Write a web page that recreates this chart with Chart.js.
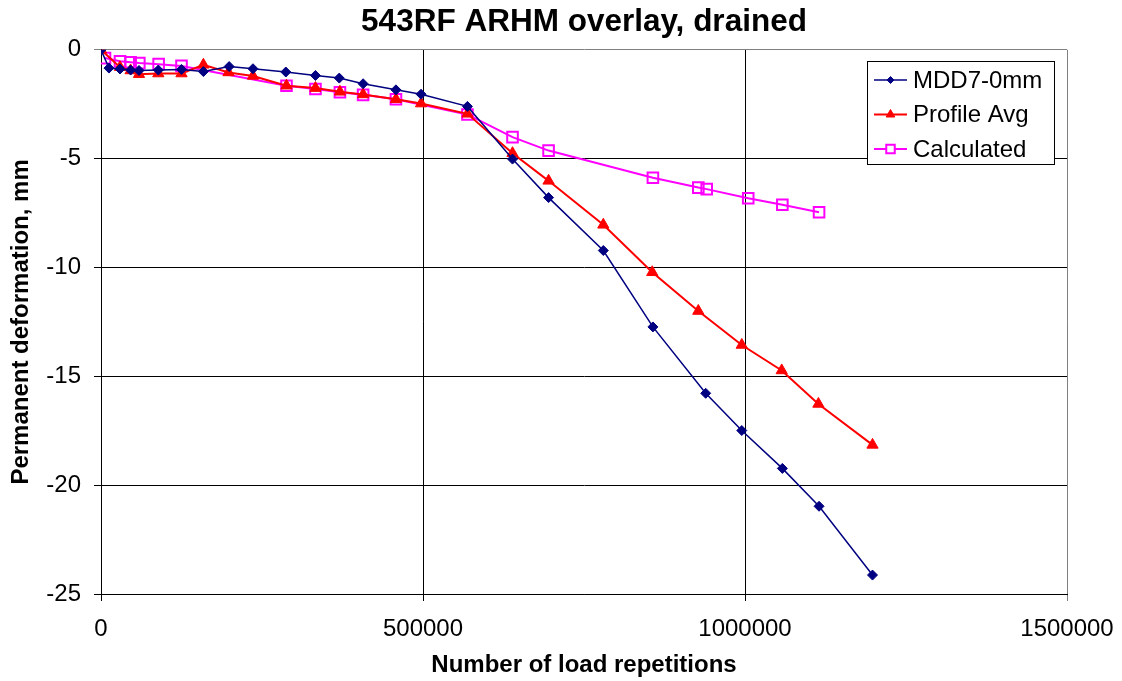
<!DOCTYPE html>
<html>
<head>
<meta charset="utf-8">
<script src="https://cdn.jsdelivr.net/npm/chart.js@4"></script>
<style>
  html, body { margin: 0; padding: 0; background: #fff; }
  #wrap { width: 1122px; height: 681px; }
</style>
</head>
<body>
<div id="wrap"><canvas id="chart"></canvas></div>
<script>
// MDD7-0mm
const mddX = [0, 12400, 29500, 46000, 59000, 89000, 125000, 159000, 199000, 236000, 287000, 333000, 370000, 407000, 458000, 497000, 569000, 639000, 695000, 780000, 857000, 939000, 995000, 1058000, 1115000, 1198000];
const mddY = [0, -0.84, -0.88, -0.93, -0.95, -0.93, -0.9, -1.0, -0.77, -0.87, -1.02, -1.18, -1.3, -1.56, -1.84, -2.04, -2.6, -5.02, -6.79, -9.22, -12.73, -15.78, -17.49, -19.23, -20.97, -24.13];

// Profile Avg
const avgX = [0, 29500, 46000, 59000, 89000, 125000, 159000, 198000, 236000, 288000, 333000, 371000, 407000, 458000, 497000, 569000, 639000, 695000, 780000, 856000, 927500, 995000, 1057000, 1114000, 1198000];
const avgY = [0, -0.8, -0.95, -1.12, -1.09, -1.09, -0.69, -1.04, -1.2, -1.65, -1.76, -1.93, -2.05, -2.27, -2.47, -2.94, -4.75, -6.02, -8.04, -10.22, -12.0, -13.56, -14.73, -16.27, -18.15];

// Calculated
const calcX = [6200, 29500, 46000, 59500, 89500, 125000, 288000, 333000, 371000, 407000, 458000, 569000, 639000, 695000, 857000, 927500, 940500, 1005000, 1058000, 1115000];
const calcY = [-0.38, -0.53, -0.57, -0.61, -0.66, -0.74, -1.65, -1.8, -1.95, -2.07, -2.27, -2.97, -4.01, -4.63, -5.88, -6.33, -6.4, -6.82, -7.12, -7.46];

const xTicks = [0, 500000, 1000000, 1500000];
const yTicks = [0, -5, -10, -15, -20, -25];

const pts = (xs, ys) => xs.map((x, i) => ({ x: x, y: ys[i] }));

// legend box drawn inside the plot, like the Excel one
const boxLegend = {
  id: 'boxLegend',
  afterDatasetsDraw(chart) {
    const ctx = chart.ctx;
    const left = 867.5, top = 61.5, w = 187, h = 103;
    ctx.save();
    ctx.fillStyle = '#fff';
    ctx.fillRect(left, top, w, h);
    ctx.strokeStyle = '#000';
    ctx.lineWidth = 1;
    ctx.strokeRect(left, top, w, h);
    ctx.font = '24px Arial, "Liberation Sans"';
    ctx.textBaseline = 'middle';
    chart.data.datasets.forEach((ds, i) => {
      const y = 80 + i * 34.5;
      ctx.strokeStyle = ds.borderColor;
      ctx.lineWidth = ds.borderWidth;
      ctx.beginPath();
      ctx.moveTo(874, y);
      ctx.lineTo(907, y);
      ctx.stroke();
      ctx.fillStyle = ds.legendFill;
      ctx.strokeStyle = ds.pointBorderColor;
      ctx.lineWidth = ds.pointBorderWidth;
      Chart.helpers.drawPoint(ctx, {
        pointStyle: ds.pointStyle,
        radius: ds.pointRadius - 1.5,
        borderWidth: ds.pointBorderWidth
      }, 890.5, y);
      ctx.fillStyle = '#000';
      ctx.fillText(ds.label, 913, y + 1);
    });
    ctx.restore();
  }
};

new Chart(document.getElementById('chart'), {
  type: 'scatter',
  data: {
    datasets: [{
      label: 'MDD7-0mm',
      data: pts(mddX, mddY),
      showLine: true,
      borderColor: '#000080',
      borderWidth: 1.5,
      pointStyle: 'rectRot',
      pointRadius: 5,
      pointBorderWidth: 1,
      pointBackgroundColor: '#000080',
      pointBorderColor: '#000080',
      legendFill: '#000080'
    }, {
      label: 'Profile Avg',
      data: pts(avgX, avgY),
      showLine: true,
      borderColor: '#ff0000',
      borderWidth: 2,
      pointStyle: 'triangle',
      pointRadius: 6.5,
      pointBorderWidth: 1,
      pointBackgroundColor: '#ff0000',
      pointBorderColor: '#ff0000',
      legendFill: '#ff0000'
    }, {
      label: 'Calculated',
      data: pts(calcX, calcY),
      showLine: true,
      borderColor: '#ff00ff',
      borderWidth: 2,
      pointStyle: 'rect',
      pointRadius: 7.5,
      pointBorderWidth: 2,
      pointBackgroundColor: 'rgba(255,255,255,0)',
      pointBorderColor: '#ff00ff',
      legendFill: '#ffffff'
    }]
  },
  options: {
    responsive: true,
    maintainAspectRatio: false,
    animation: false,
    layout: { padding: { left: 0, right: 55, top: 0, bottom: 0 } },
    plugins: {
      legend: { display: false },
      tooltip: { enabled: false },
      title: {
        display: true,
        fullSize: false,
        text: '543RF ARHM overlay, drained',
        color: '#000',
        font: { family: 'Arial, "Liberation Sans"', size: 31.5, weight: 'bold' },
        padding: { top: 3, bottom: 9 }
      }
    },
    scales: {
      x: {
        type: 'linear',
        min: 0,
        max: 1500000,
        afterBuildTicks: s => { s.ticks = xTicks.map(v => ({ value: v })); },
        afterFit: s => { s.height = 87; s.paddingLeft = 0; s.paddingRight = 0; },
        border: { color: '#000', width: 1 },
        grid: {
          color: c => (c.tick && c.tick.value === 1500000) ? '#808080' : '#000',
          lineWidth: 1,
          tickLength: 7
        },
        ticks: {
          color: '#000',
          padding: 14,
          maxRotation: 0,
          font: { family: 'Arial, "Liberation Sans"', size: 24 },
          callback: v => String(v)
        },
        title: {
          display: true,
          text: 'Number of load repetitions',
          color: '#000',
          font: { family: 'Arial, "Liberation Sans"', size: 24, weight: 'bold' },
          padding: { top: 0, bottom: 1 }
        }
      },
      y: {
        type: 'linear',
        min: -25,
        max: 0,
        afterBuildTicks: s => { s.ticks = yTicks.map(v => ({ value: v })); },
        afterFit: s => { s.width = 101; s.paddingTop = 0; s.paddingBottom = 0; },
        border: { color: '#000', width: 1 },
        grid: {
          color: c => (c.tick && c.tick.value === 0) ? '#808080' : '#000',
          lineWidth: 1,
          tickLength: 7
        },
        ticks: {
          color: '#000',
          padding: 13,
          font: { family: 'Arial, "Liberation Sans"', size: 24 },
          callback: v => String(v)
        },
        title: {
          display: true,
          text: 'Permanent deformation, mm',
          color: '#000',
          font: { family: 'Arial, "Liberation Sans"', size: 24, weight: 'bold' },
          padding: { top: 7, bottom: 0 }
        }
      }
    }
  },
  plugins: [boxLegend]
});
</script>
</body>
</html>
